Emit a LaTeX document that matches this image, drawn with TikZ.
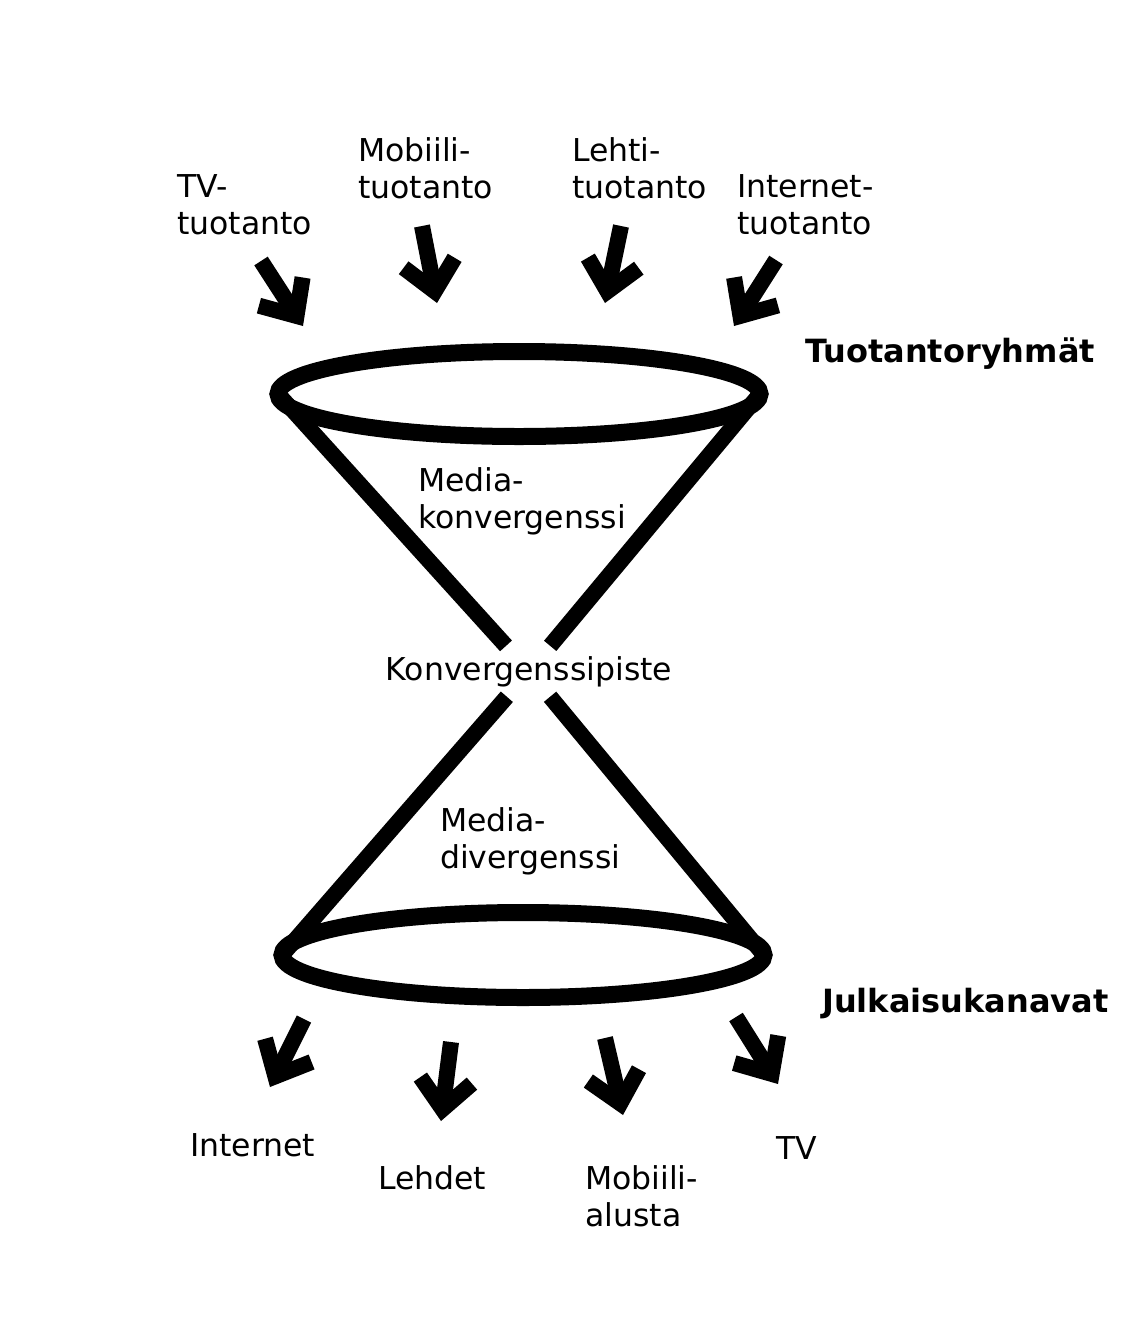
\documentclass[tikz,border=0pt]{standalone}
\usepackage{fontspec}
\setmainfont{DejaVu Sans}
\usetikzlibrary{arrows.meta}
\usetikzlibrary{shapes.geometric}

\begin{document}
\begin{tikzpicture}[x=1pt,y=-1pt,line join=miter,
  lbl/.style={font=\fontsize{31.5}{37}\selectfont,inner sep=0pt,align=left,anchor=base west},
  grp/.style={font=\fontsize{32}{37}\selectfont\bfseries,inner sep=0pt,anchor=base west},
  rim/.style={draw,ellipse,line width=17pt,inner sep=0pt,outer sep=0pt,minimum width=482pt,minimum height=85pt},
  cone/.style={line width=16pt},
  flow/.style={line width=16pt,-{Straight Barb[length=29pt,width=52pt,sharp]}}]
\useasboundingbox (0,0) rectangle (1141,1342);
%%
\node (node_tv_in) at (177,234) [lbl] {TV-\\tuotanto};
\node (node_mob_in) at (358,198) [lbl] {Mobiili-\\tuotanto};
\node (node_leh_in) at (572,198) [lbl] {Lehti-\\tuotanto};
\node (node_int_in) at (737,234) [lbl] {Internet-\\tuotanto};
\node (node_groups) at (805,362) [grp] {Tuotantoryhmät};
%
\node (rim_top) at (519,394) [rim] {};
\node (rim_bot) at (523,955) [rim] {};
\node (node_conv) at (418,528) [lbl] {Media-\\konvergenssi};
\node (node_point) at (529,680) [lbl,anchor=base,inner sep=10pt] {Konvergenssipiste};
\node (node_div) at (440,868) [lbl] {Media-\\divergenssi};
\node (node_channels) at (822,1012) [grp] {Julkaisukanavat};
%
\node (node_int_out) at (190,1156) [lbl] {Internet};
\node (node_leh_out) at (378,1189) [lbl] {Lehdet};
\node (node_mob_out) at (585,1226) [lbl] {Mobiili-\\alusta};
\node (node_tv_out) at (776,1159) [lbl] {TV};
%
\coordinate (tv_a) at (261,261);  \coordinate (tv_b) at (303,326);
\coordinate (mob_a) at (422,226); \coordinate (mob_b) at (437,303);
\coordinate (leh_a) at (621,226); \coordinate (leh_b) at (605,303);
\coordinate (int_a) at (776,260); \coordinate (int_b) at (734,326);
\coordinate (int_c) at (304,1019); \coordinate (int_d) at (270,1087);
\coordinate (leh_c) at (451,1042); \coordinate (leh_d) at (441,1121);
\coordinate (mob_c) at (605,1038); \coordinate (mob_d) at (623,1115);
\coordinate (tv_c) at (736,1017);  \coordinate (tv_d) at (778,1084);
%
\draw [cone] (rim_top.west) -- (node_point);
\draw [cone] (rim_top.east) -- (node_point);
\draw [cone] (node_point) -- (rim_bot.west);
\draw [cone] (node_point) -- (rim_bot.east);
\draw [flow] (tv_a) -- (tv_b);
\draw [flow] (mob_a) -- (mob_b);
\draw [flow] (leh_a) -- (leh_b);
\draw [flow] (int_a) -- (int_b);
\draw [flow] (int_c) -- (int_d);
\draw [flow] (leh_c) -- (leh_d);
\draw [flow] (mob_c) -- (mob_d);
\draw [flow] (tv_c) -- (tv_d);
%
\end{tikzpicture}
\end{document}
